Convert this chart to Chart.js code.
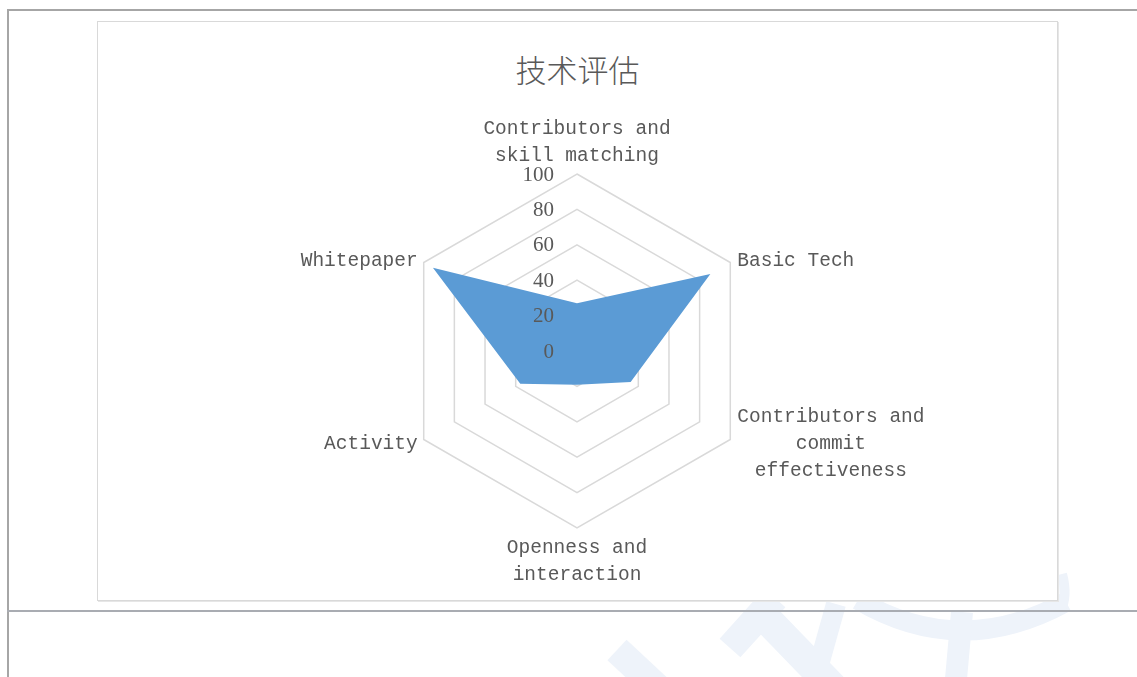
<!DOCTYPE html>
<html>
<head>
<meta charset="utf-8">
<script src="https://cdn.jsdelivr.net/npm/chart.js@4.4.1/dist/chart.umd.min.js"></script>
<style>
  html, body { margin: 0; padding: 0; background: #fff; }
  body { width: 1137px; height: 677px; position: relative; overflow: hidden; }
  .rule-top { position: absolute; left: 7px; top: 9px; width: 1130px; height: 2px; background: #a6a6a6; }
  .rule-left { position: absolute; left: 7px; top: 9px; width: 2px; height: 668px; background: #a6a6a6; }
  .rule-bottom { position: absolute; left: 7px; top: 610px; width: 1130px; height: 2px; background: #a9acb2; }
  .mark { position: absolute; left: 0; top: 0; }
  .frame { position: absolute; left: 97px; top: 21px; width: 959px; height: 578px;
           border: 1px solid #d9d9d9; background: #fff; box-shadow: 1px 1px 0 #e6e6e6; }
  .title { position: absolute; left: 0; top: 27px; width: 959px; text-align: center;
           font-family: "Noto Sans CJK SC", sans-serif; font-weight: 300; font-size: 31px;
           line-height: 40px; color: #595959; }
  canvas { position: absolute; left: 0; top: 0; }
</style>
</head>
<body>
<svg class="mark" width="1137" height="677">
  <g stroke="#eef3fa" fill="none" stroke-linecap="butt">
    <line x1="617" y1="650" x2="662" y2="692" stroke-width="28"/>
    <line x1="730" y1="648" x2="775" y2="598" stroke-width="28"/>
    <line x1="758" y1="610" x2="845" y2="700" stroke-width="30"/>
    <line x1="836" y1="604" x2="812" y2="690" stroke-width="20"/>
    <path d="M 858 600 Q 960 660 1066 602" stroke-width="20"/>
    <line x1="962" y1="612" x2="955" y2="690" stroke-width="22"/>
    <path d="M 1060 612 Q 1068 596 1062 574" stroke-width="10"/>
  </g>
</svg>
<div class="rule-top"></div>
<div class="rule-left"></div>
<div class="rule-bottom"></div>
<div class="frame">
  <div class="title">技术评估</div>
  <canvas id="radarChart" width="959" height="578"></canvas>
</div>
<script>
// categories (multi-line labels as arrays)
const categories = [
  ['Contributors and', 'skill matching'],
  'Basic Tech',
  ['Contributors and', 'commit', 'effectiveness'],
  ['Openness and', 'interaction'],
  'Activity',
  'Whitepaper'
];
const scores = [27, 87, 35, 19, 37, 94];
const tickValues = [0, 20, 40, 60, 80, 100];

const textColor = '#595959';

// draws tick labels left of the vertical axis and the category labels
const labelPlugin = {
  id: 'radarLabels',
  afterDraw(chart) {
    const scale = chart.scales.r;
    const ctx = chart.ctx;
    ctx.save();
    ctx.fillStyle = textColor;

    ctx.font = '21px "Liberation Serif", serif';
    ctx.textAlign = 'right';
    ctx.textBaseline = 'middle';
    tickValues.forEach(v => {
      const d = scale.getDistanceFromCenterForValue(v);
      ctx.fillText(String(v), scale.xCenter - 23, scale.yCenter - d + 1);
    });

    ctx.font = '19.5px "Liberation Mono", monospace';
    ctx.textAlign = 'center';
    const lineH = 27;
    categories.forEach((lab, i) => {
      const lines = Array.isArray(lab) ? lab : [lab];
      const n = lines.length;
      const p = scale.getPointPosition(i, scale.drawingArea);
      const dx = p.x - scale.xCenter;
      const bw = Math.max(...lines.map(l => ctx.measureText(l).width));
      let cx, cy;
      if (Math.abs(dx) < 1) {
        cx = p.x;
        cy = p.y < scale.yCenter
          ? p.y - 18 - (n - 1) * lineH / 2
          : p.y + 20 + (n - 1) * lineH / 2;
      } else {
        cx = dx > 0 ? p.x + 7 + bw / 2 : p.x - 6 - bw / 2;
        cy = p.y + (p.y < scale.yCenter ? -1.5 : 4.5);
      }
      lines.forEach((l, k) => {
        ctx.fillText(l, cx, cy - (n - 1) * lineH / 2 + k * lineH);
      });
    });
    ctx.restore();
  }
};

const ctx = document.getElementById('radarChart');
new Chart(ctx, {
  type: 'radar',
  data: {
    labels: categories,
    datasets: [{
      label: '技术评估',
      data: scores,
      backgroundColor: '#5b9bd5',
      borderColor: '#5b9bd5',
      borderWidth: 0,
      pointRadius: 0,
      tension: 0
    }]
  },
  options: {
    responsive: false,
    animation: false,
    layout: { padding: { top: 152, bottom: 72, left: 0, right: 0 } },
    plugins: {
      legend: { display: false },
      tooltip: { enabled: false },
      title: { display: false }
    },
    scales: {
      r: {
        min: 0,
        max: 100,
        ticks: { stepSize: 20, display: false },
        grid: { color: '#d9d9d9', lineWidth: 1.5 },
        angleLines: { display: false },
        pointLabels: { display: false }
      }
    }
  },
  plugins: [labelPlugin]
});
</script>
</body>
</html>
